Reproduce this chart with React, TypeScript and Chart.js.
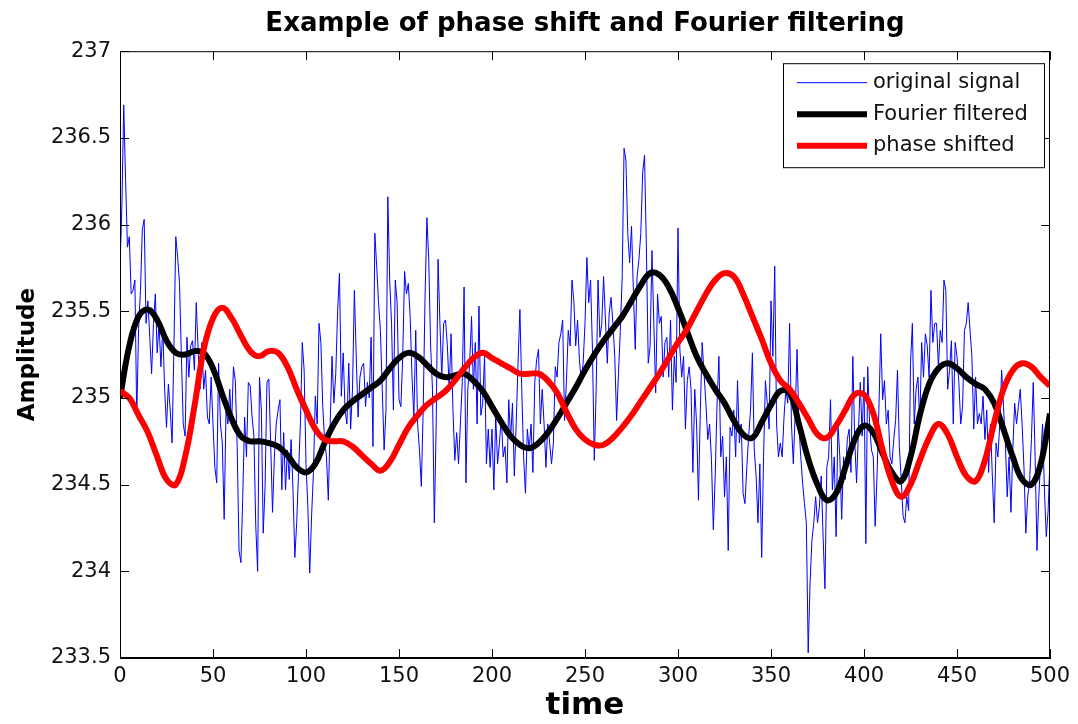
import React, { useEffect, useRef } from "react";
import { Chart, registerables } from "chart.js";

Chart.register(...registerables);

const chartTitle = "Example of phase shift and Fourier filtering";
const xAxisTitle = "time";
const yAxisTitle = "Amplitude";
const seriesLabels = ["original signal", "Fourier filtered", "phase shifted"];
const xMin = 0;
const xMax = 500;
const xStep = 50;
const yMin = 233.5;
const yMax = 237;
const yStep = 0.5;
const signalStep = 1; // time units between original signal samples
const smoothStep = 5; // time units between filtered / shifted samples

// original (noisy) signal, one value per time unit, t = 0..500
const originalSignal = [
  235.75, 236.10, 236.69, 236.26, 235.87, 235.93, 235.60, 235.62, 235.68, 234.89,
  235.40, 235.62, 235.97, 236.03, 235.43, 235.56, 235.35, 235.14, 235.43, 235.60,
  235.26, 235.43, 235.18, 235.40, 235.05, 234.83, 235.08, 234.93, 234.74, 235.30,
  235.93, 235.81, 235.66, 235.24, 234.85, 234.78, 235.35, 235.12, 235.30, 235.33,
  235.16, 235.55, 235.28, 235.05, 235.32, 235.05, 235.16, 234.89, 234.85, 235.12,
  234.85, 234.60, 234.51, 235.20, 234.85, 234.74, 234.30, 234.93, 234.85, 235.05,
  234.85, 235.18, 235.10, 234.72, 234.12, 234.05, 234.43, 234.89, 234.66, 235.09,
  235.07, 234.89, 234.78, 234.26, 234.00, 235.12, 234.93, 234.22, 234.49, 235.09,
  235.11, 234.74, 234.34, 234.66, 234.85, 234.93, 234.99, 234.47, 234.80, 234.47,
  234.70, 234.53, 234.76, 234.47, 234.08, 234.28, 234.57, 234.85, 235.32, 235.16,
  234.62, 234.37, 233.99, 234.32, 234.57, 235.01, 234.85, 235.43, 235.32, 234.95,
  234.76, 234.66, 234.41, 234.85, 235.24, 234.97, 235.14, 235.50, 235.72, 235.01,
  235.26, 234.93, 234.85, 235.20, 234.82, 235.05, 235.62, 235.24, 234.89, 235.12,
  235.18, 235.20, 234.95, 235.09, 235.00, 235.35, 234.72, 235.95, 235.76, 235.55,
  235.39, 235.05, 234.70, 234.93, 236.16, 235.68, 235.43, 234.93, 235.68, 235.55,
  234.99, 234.95, 235.24, 235.73, 235.60, 235.66, 235.47, 235.12, 234.89, 235.39,
  234.85, 234.70, 234.49, 234.93, 235.58, 236.04, 235.80, 235.30, 235.05, 234.28,
  234.85, 235.80, 235.43, 235.12, 235.43, 235.45, 235.30, 235.05, 235.37, 234.93,
  234.64, 234.80, 234.62, 234.85, 235.09, 235.64, 234.51, 235.05, 235.20, 235.47,
  235.05, 235.32, 234.85, 235.53, 234.90, 234.97, 235.24, 234.62, 234.82, 234.60,
  234.82, 234.47, 234.90, 234.62, 234.74, 234.89, 234.66, 234.72, 234.51, 234.99,
  234.76, 234.97, 234.55, 234.85, 235.20, 235.51, 235.05, 234.66, 234.45, 234.82,
  234.70, 234.85, 234.57, 235.09, 235.22, 235.28, 234.85, 235.05, 234.85, 234.60,
  234.85, 234.74, 234.62, 234.74, 235.18, 235.12, 235.32, 235.37, 235.45, 234.87,
  235.09, 235.39, 235.30, 235.68, 235.56, 235.30, 235.45, 235.22, 235.10, 235.20,
  235.43, 235.81, 235.55, 235.68, 235.28, 234.64, 235.05, 235.68, 235.35, 235.43,
  235.70, 235.45, 235.20, 235.49, 235.58, 235.43, 235.24, 234.87, 235.14, 235.39,
  235.70, 236.44, 236.37, 235.95, 235.78, 235.99, 235.62, 235.28, 235.70, 235.80,
  235.95, 236.30, 236.40, 235.87, 235.20, 235.30, 235.85, 235.43, 235.03, 235.60,
  235.43, 235.47, 235.12, 235.32, 235.35, 235.12, 235.45, 234.93, 235.24, 235.09,
  235.98, 235.28, 235.12, 235.24, 234.82, 235.10, 235.18, 235.05, 234.57, 235.05,
  234.85, 234.41, 234.93, 235.32, 235.14, 234.97, 234.76, 234.85, 234.64, 234.24,
  234.55, 234.97, 235.24, 234.66, 234.78, 234.43, 234.66, 234.12, 234.83, 234.78,
  234.93, 234.66, 235.10, 234.74, 234.85, 234.45, 234.39, 234.60, 234.78, 234.93,
  235.26, 234.70, 234.55, 234.28, 234.62, 234.08, 234.66, 235.10, 234.97, 234.82,
  235.56, 235.24, 235.76, 234.85, 234.66, 234.74, 234.66, 234.89, 235.05, 234.97,
  235.43, 234.85, 234.62, 234.91, 235.28, 234.85, 234.66, 234.51, 234.39, 234.28,
  233.53, 233.93, 234.18, 234.28, 234.43, 234.28, 234.37, 234.55, 234.20, 233.90,
  234.60, 234.66, 234.99, 234.47, 234.66, 234.20, 234.85, 234.66, 234.30, 234.66,
  234.53, 234.76, 234.82, 234.57, 235.24, 234.76, 234.51, 234.80, 235.09, 234.78,
  235.12, 234.16, 235.18, 234.85, 234.70, 234.66, 234.26, 234.55, 234.93, 235.37,
  234.99, 235.10, 234.85, 234.93, 234.66, 234.62, 234.76, 234.87, 235.16, 234.72,
  234.53, 234.32, 234.28, 234.43, 234.35, 235.20, 235.43, 234.85, 235.05, 235.12,
  234.85, 235.32, 235.12, 235.37, 235.30, 235.12, 235.62, 235.32, 235.43, 235.43,
  235.18, 235.39, 235.32, 235.68, 235.62, 235.05, 235.16, 235.33, 234.85, 235.32,
  235.24, 235.09, 234.85, 234.95, 235.39, 235.43, 235.55, 235.39, 235.24, 234.82,
  235.12, 234.85, 234.91, 234.85, 235.01, 234.76, 234.93, 234.57, 234.85, 234.55,
  234.28, 234.74, 234.66, 234.85, 235.16, 234.95, 234.74, 234.43, 234.66, 234.34,
  234.70, 234.97, 234.85, 234.95, 235.05, 234.85, 234.60, 234.22, 234.43, 234.51,
  234.76, 235.09, 234.66, 234.12, 234.43, 234.66, 234.85, 234.47, 234.20, 234.35,
  234.66,
];

// Fourier filtered signal, sampled every 5 time units, t = 0..500
const fourierFiltered = [
  235.00, 235.30, 235.47, 235.51, 235.45, 235.33, 235.26, 235.25, 235.27, 235.26,
  235.17, 235.02, 234.88, 234.78, 234.75, 234.75, 234.74, 234.72, 234.67, 234.60,
  234.57, 234.62, 234.74, 234.85, 234.93, 234.98, 235.02, 235.06, 235.10, 235.17,
  235.23, 235.26, 235.24, 235.19, 235.14, 235.12, 235.13, 235.14, 235.10, 235.04,
  234.95, 234.86, 234.78, 234.73, 234.71, 234.74, 234.80, 234.88, 234.97, 235.06,
  235.16, 235.25, 235.33, 235.40, 235.47, 235.56, 235.65, 235.72, 235.71, 235.64,
  235.52, 235.38, 235.24, 235.14, 235.05, 234.97, 234.87, 234.79, 234.77, 234.86,
  234.96, 235.04, 235.03, 234.85, 234.65, 234.50, 234.41, 234.45, 234.60, 234.76,
  234.84, 234.80, 234.68, 234.57, 234.52, 234.66, 234.90, 235.08, 235.17, 235.20,
  235.17, 235.12, 235.08, 235.05, 234.97, 234.82, 234.66, 234.53, 234.50, 234.62,
  234.91,
];

// phase shifted signal, sampled every 5 time units, t = 0..500
const phaseShifted = [
  235.04, 235.00, 234.90, 234.80, 234.66, 234.53, 234.50, 234.66, 234.95, 235.28,
  235.46, 235.52, 235.46, 235.36, 235.27, 235.24, 235.27, 235.26, 235.18, 235.05,
  234.93, 234.82, 234.76, 234.75, 234.75, 234.72, 234.67, 234.62, 234.58, 234.63,
  234.73, 234.83, 234.90, 234.96, 235.00, 235.04, 235.10, 235.17, 235.23, 235.26,
  235.23, 235.20, 235.17, 235.14, 235.14, 235.14, 235.10, 235.03, 234.92, 234.82,
  234.76, 234.73, 234.73, 234.77, 234.83, 234.90, 234.98, 235.06, 235.14, 235.23,
  235.32, 235.40, 235.50, 235.60, 235.68, 235.72, 235.70, 235.60, 235.47, 235.34,
  235.20, 235.10, 235.05, 234.97, 234.88, 234.79, 234.77, 234.84, 234.93, 235.02,
  235.02, 234.91, 234.70, 234.52, 234.43, 234.50, 234.64, 234.77, 234.85, 234.79,
  234.66, 234.55, 234.52, 234.64, 234.86, 235.05, 235.16, 235.20, 235.18, 235.12,
  235.07,
];

const FONT = "'DejaVu Sans', 'Liberation Sans', Arial, sans-serif";

const frameTicksPlugin = {
  id: "frameTicks",
  afterDatasetsDraw(chart: any) {
    const { ctx, chartArea, scales } = chart;
    const { left, right, top, bottom } = chartArea;
    const len = 9;
    ctx.save();
    ctx.strokeStyle = "#000";
    ctx.lineWidth = 1;
    ctx.beginPath();
    ctx.rect(left + 0.5, top + 0.5, right - left - 1, bottom - top - 1);
    scales.x.ticks.forEach((t: any) => {
      const px = Math.round(scales.x.getPixelForValue(t.value)) + 0.5;
      ctx.moveTo(px, bottom);
      ctx.lineTo(px, bottom - len);
      ctx.moveTo(px, top);
      ctx.lineTo(px, top + len);
    });
    scales.y.ticks.forEach((t: any) => {
      const py = Math.round(scales.y.getPixelForValue(t.value)) + 0.5;
      ctx.moveTo(left, py);
      ctx.lineTo(left + len, py);
      ctx.moveTo(right, py);
      ctx.lineTo(right - len, py);
    });
    ctx.stroke();
    ctx.restore();
  },
};

const boxLegendPlugin = {
  id: "boxLegend",
  afterDraw(chart: any) {
    const { ctx, chartArea } = chart;
    const boxW = 261;
    const boxH = 104;
    const boxRight = chartArea.right - 6;
    const boxTop = chartArea.top + 12;
    const boxLeft = boxRight - boxW;
    ctx.save();
    ctx.fillStyle = "#fff";
    ctx.fillRect(boxLeft, boxTop, boxW, boxH);
    ctx.strokeStyle = "#000";
    ctx.lineWidth = 1;
    ctx.strokeRect(boxLeft + 0.5, boxTop + 0.5, boxW, boxH);
    ctx.font = `21px ${FONT}`;
    ctx.textBaseline = "middle";
    ctx.textAlign = "left";
    chart.data.datasets.forEach((ds: any, i: number) => {
      const y = boxTop + 19.5 + i * 31.5;
      ctx.beginPath();
      ctx.strokeStyle = ds.borderColor;
      ctx.lineWidth = ds.borderWidth;
      ctx.moveTo(boxLeft + 14, y);
      ctx.lineTo(boxLeft + 84, y);
      ctx.stroke();
      ctx.fillStyle = "#111";
      ctx.fillText(ds.label, boxLeft + 90, y);
    });
    ctx.restore();
  },
};

export default function App() {
  const ref = useRef<HTMLCanvasElement | null>(null);

  useEffect(() => {
    if (!ref.current) return;
    const toPoints = (arr: number[], step: number) =>
      arr.map((v, i) => ({ x: i * step, y: v }));

    const chart = new Chart(ref.current, {
      type: "line",
      data: {
        datasets: [
          {
            label: seriesLabels[0],
            data: toPoints(originalSignal, signalStep),
            borderColor: "#0000ff",
            borderWidth: 1,
            pointRadius: 0,
            tension: 0,
            order: 3,
          },
          {
            label: seriesLabels[1],
            data: toPoints(fourierFiltered, smoothStep),
            borderColor: "#000000",
            borderWidth: 6,
            pointRadius: 0,
            tension: 0.4,
            order: 2,
          },
          {
            label: seriesLabels[2],
            data: toPoints(phaseShifted, smoothStep),
            borderColor: "#ff0000",
            borderWidth: 6,
            pointRadius: 0,
            tension: 0.4,
            order: 1,
          },
        ],
      },
      options: {
        animation: false,
        responsive: false,
        events: [],
        layout: { padding: { left: 0, right: 28, top: 0, bottom: 0 } },
        plugins: {
          legend: { display: false },
          tooltip: { enabled: false },
          title: {
            display: true,
            fullSize: false,
            text: chartTitle,
            color: "#000",
            font: { family: FONT, size: 26, weight: "bold", lineHeight: 1.2 },
            padding: { top: 9, bottom: 11 },
          },
        },
        scales: {
          x: {
            type: "linear",
            min: xMin,
            max: xMax,
            afterFit: (s: any) => {
              s.height = 66;
            },
            ticks: {
              stepSize: xStep,
              color: "#111",
              font: { family: FONT, size: 21 },
              padding: 6,
              maxRotation: 0,
            },
            grid: { display: false, drawTicks: false },
            border: { display: true, color: "#000", width: 1 },
            title: {
              display: true,
              text: xAxisTitle,
              color: "#000",
              font: { family: FONT, size: 31, weight: "bold", lineHeight: 1.2 },
              padding: { top: 0, bottom: -1 },
            },
          },
          y: {
            type: "linear",
            min: yMin,
            max: yMax,
            afterFit: (s: any) => {
              s.width = 120;
            },
            ticks: {
              stepSize: yStep,
              color: "#111",
              font: { family: FONT, size: 21 },
              padding: 9,
              callback: (v: any) => `${Number(v)}`,
            },
            grid: { display: false, drawTicks: false },
            border: { display: true, color: "#000", width: 1 },
            title: {
              display: true,
              text: yAxisTitle,
              color: "#000",
              font: { family: FONT, size: 23, weight: "bold", lineHeight: 1.2 },
              padding: { top: 14, bottom: 0 },
            },
          },
        },
      },
      plugins: [frameTicksPlugin, boxLegendPlugin],
    });
    return () => chart.destroy();
  }, []);

  return (
    <div style={{ position: "absolute", left: 0, top: 0, width: 1078, height: 724, background: "#fff" }}>
      <canvas ref={ref} width={1078} height={724} style={{ display: "block" }} />
    </div>
  );
}
